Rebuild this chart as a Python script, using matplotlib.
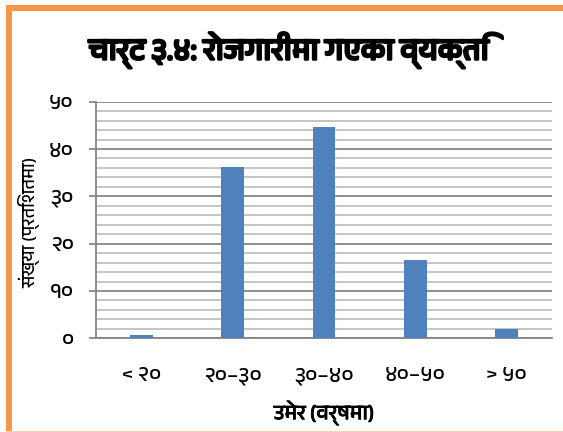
"""
:synopsis: Bar chart of employed persons by age group (Nepali labels).
"""

# third party imports
from matplotlib import font_manager, patches, patheffects, pyplot, ticker
import numpy

# chart data
age_groups = ['< २०', '२०–३०', '३०–४०', '४०–५०', '> ५०']
percent = [0.7, 36.2, 44.7, 16.5, 1.9]
y_ticks = [0, 10, 20, 30, 40, 50]
y_tick_labels = ['०', '१०', '२०', '३०', '४०', '५०']

title = 'चार्ट ३.४: रोजगारीमा गएका व्यक्ति'
x_label = 'उमेर (वर्षमा)'
y_label = 'संख्या (प्रतिशतमा)'

BAR_COLOR = '#4F81BD'
BORDER_COLOR = '#F79646'

# Pick up any installed font that can draw Devanagari, keep DejaVu as fallback
deva_fonts = sorted({f.name for f in font_manager.fontManager.ttflist
                     if 'Devanagari' in f.name
                     or f.name in ('Mangal', 'FreeSans', 'Kalimati')})
families = deva_fonts + ['DejaVu Sans']
pyplot.rcParams['font.family'] = families

fig = pyplot.figure(figsize=(5.63, 4.32), dpi=100)
W, H = 563.0, 432.0

# orange frame (clipped on the right and bottom like the source screenshot)
fig.patches.append(patches.Rectangle((6 / W, 1 - 11 / H), 1, 6 / H,
                                     transform=fig.transFigure,
                                     color=BORDER_COLOR, lw=0))
fig.patches.append(patches.Rectangle((6 / W, 0), 6 / W, 1 - 5 / H,
                                     transform=fig.transFigure,
                                     color=BORDER_COLOR, lw=0))
fig.patches.append(patches.Rectangle((6 / W, 0), 1, 1.5 / H,
                                     transform=fig.transFigure,
                                     color='#FAD3B4', lw=0))

ax = fig.add_axes([96 / W, 1 - 338.3 / H, 456 / W, 236.6 / H])

ind = numpy.arange(len(age_groups))
ax.bar(ind, percent, 0.25, color=BAR_COLOR, zorder=3)
ax.set_xlim(-0.5, len(age_groups) - 0.5)
ax.set_ylim(0, 50)

# gridlines: major every 10, minor every 2
ax.yaxis.set_major_locator(ticker.FixedLocator(y_ticks))
ax.yaxis.set_major_formatter(ticker.FixedFormatter(y_tick_labels))
ax.yaxis.set_minor_locator(ticker.MultipleLocator(2))
ax.grid(which='major', axis='y', color='#868686', lw=1.3, zorder=1)
ax.grid(which='minor', axis='y', color='#C0C0C0', lw=1.3, zorder=1)
ax.tick_params(axis='y', which='major', length=5, width=1.3,
               color='#868686', labelsize=16, pad=11)
ax.tick_params(axis='y', which='minor', length=0)

ax.set_xticks(ind)
ax.set_xticklabels(age_groups)
ax.tick_params(axis='x', length=0, labelsize=16, pad=20)

for side in ('top', 'right'):
    ax.spines[side].set_visible(False)
for side in ('left', 'bottom'):
    ax.spines[side].set_color('#868686')
    ax.spines[side].set_linewidth(1.3)

xl = ax.set_xlabel(x_label, fontsize=15, va='center')
xl.set_path_effects([patheffects.withStroke(linewidth=0.6,
                                            foreground='black')])
ax.xaxis.set_label_coords(0.5, (338.3 - 413) / 236.6)
ax.set_ylabel(y_label, fontsize=13, va='center')
ax.yaxis.set_label_coords((29 - 96) / 456, 0.49)

t = fig.text(289 / W, 1 - 50 / H, title, ha='center', va='center',
             fontsize=22, fontweight='bold')
t.set_path_effects([patheffects.withStroke(linewidth=1.8,
                                           foreground='black')])

fig.savefig('out.png', dpi=100)
